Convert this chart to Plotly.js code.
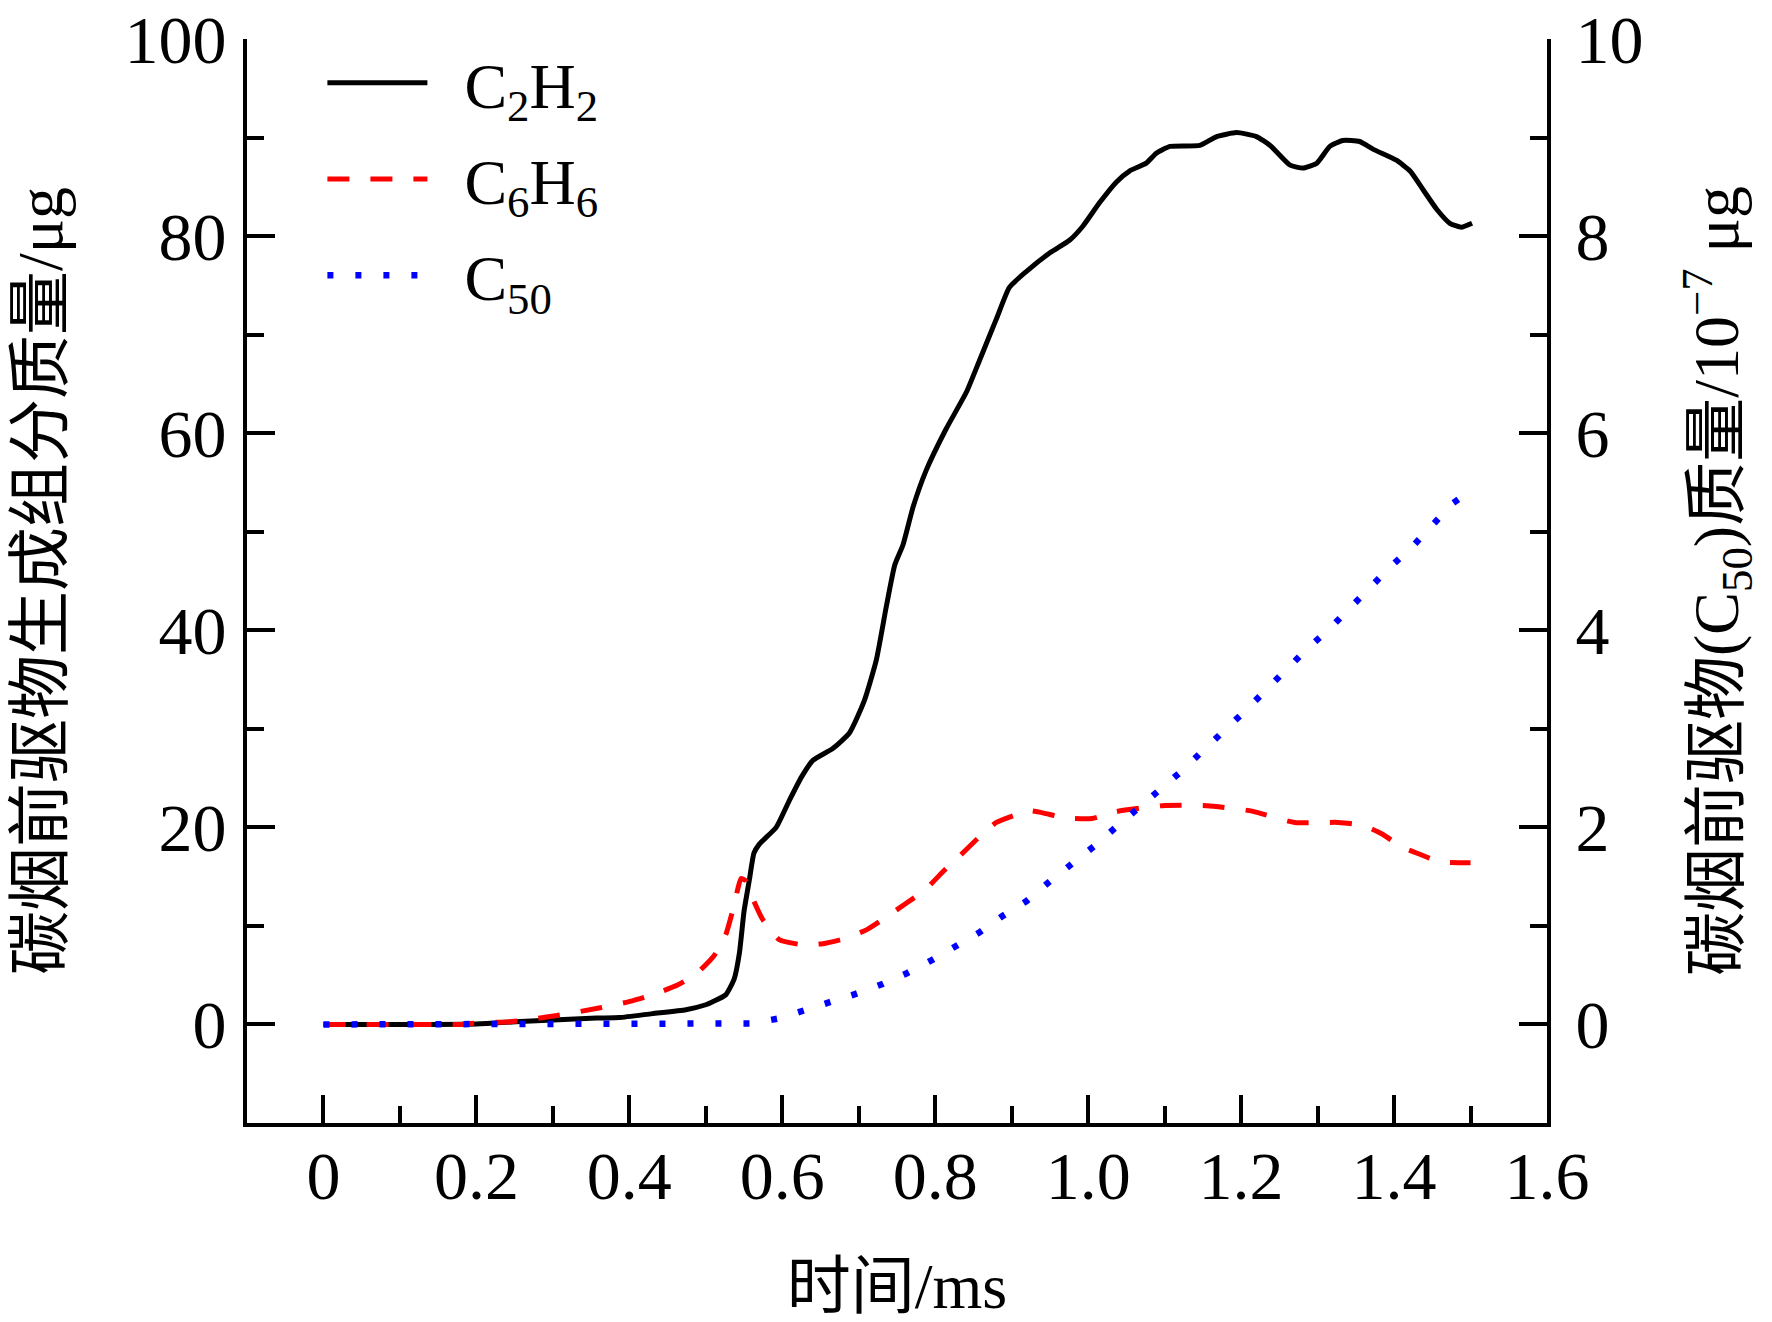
<!DOCTYPE html>
<html>
<head>
<meta charset="utf-8">
<script src="https://cdn.plot.ly/plotly-3.0.1.min.js"></script>
<style>
  html, body { margin: 0; padding: 0; background: #fff; }
  #chart { width: 1772px; height: 1322px; }
</style>
</head>
<body>
<div id="chart"></div>
<script>
'use strict';

// --- data (time in ms) ---
const C2H2_T = [0, 0.1, 0.2, 0.257, 0.3, 0.357, 0.387, 0.43, 0.474, 0.5, 0.509, 0.526, 0.537, 0.544,
    0.55, 0.557, 0.563, 0.57, 0.592, 0.609, 0.625, 0.64, 0.666, 0.688, 0.707, 0.723, 0.736, 0.747,
    0.758, 0.771, 0.788, 0.814, 0.841, 0.858, 0.88, 0.897, 0.919, 0.95, 0.976, 0.993, 1.015, 1.037,
    1.054, 1.076, 1.089, 1.107, 1.146, 1.168, 1.194, 1.22, 1.238, 1.264, 1.281, 1.299, 1.316, 1.333,
    1.355, 1.373, 1.403, 1.421, 1.438, 1.456, 1.473, 1.488, 1.502];
const C2H2_M = [0, 0, 0.05, 0.3, 0.45, 0.65, 0.7, 1.1, 1.5, 2.0, 2.3, 3.0, 4.6, 7.3,
    11.5, 14.7, 17.4, 18.3, 20.0, 22.7, 25.1, 26.8, 28.0, 29.6, 32.8, 37.0, 42.4, 46.6,
    48.7, 52.5, 56.2, 60.4, 64.2, 67.4, 71.6, 74.8, 76.4, 78.3, 79.6, 81.0, 83.4, 85.5,
    86.6, 87.4, 88.4, 89.1, 89.2, 90.1, 90.5, 90.1, 89.2, 87.2, 86.9, 87.4, 89.1, 89.7,
    89.6, 88.8, 87.7, 86.6, 84.7, 82.7, 81.3, 80.9, 81.3];

const C6H6_T = [0, 0.1, 0.18, 0.19, 0.247, 0.305, 0.362, 0.404, 0.43, 0.463, 0.487, 0.511, 0.526,
    0.537, 0.546, 0.552, 0.559, 0.574, 0.596, 0.625, 0.653, 0.681, 0.71, 0.736, 0.762, 0.786, 0.81,
    0.832, 0.856, 0.88, 0.91, 0.923, 0.939, 0.967, 0.98, 1.005, 1.037, 1.097, 1.155, 1.214, 1.27,
    1.327, 1.36, 1.385, 1.41, 1.436, 1.46, 1.5];
const C6H6_M = [0, 0, 0, 0.1, 0.3, 0.9, 1.7, 2.4, 3.0, 4.0, 5.1, 7.0, 9.1,
    12.1, 14.8, 14.6, 13.2, 10.7, 8.6, 8.1, 8.2, 8.7, 9.6, 10.9, 12.3, 13.6, 15.5,
    17.1, 18.9, 20.5, 21.4, 21.7, 21.5, 21.0, 20.9, 20.9, 21.6, 22.2, 22.2, 21.65, 20.5,
    20.5, 20.2, 19.3, 18.0, 17.2, 16.5, 16.4];

// C50 on the right axis, in 10^-7 ug
const C50_T = [0, 0.1, 0.2, 0.3, 0.4, 0.456, 0.525, 0.56, 0.595, 0.629, 0.663, 0.696, 0.731, 0.763,
    0.795, 0.826, 0.857, 0.888, 0.919, 0.948, 0.978, 1.008, 1.036, 1.064, 1.094, 1.122, 1.149,
    1.177, 1.205, 1.232, 1.259, 1.286, 1.315, 1.341, 1.368, 1.396, 1.424, 1.45, 1.477, 1.49];
const C50_M = [0, 0, 0, 0, 0, 0, 0, 0.01, 0.06, 0.14, 0.22, 0.31, 0.41, 0.52,
    0.65, 0.79, 0.93, 1.10, 1.25, 1.44, 1.62, 1.81, 2.00, 2.18, 2.37, 2.57, 2.77,
    2.97, 3.18, 3.39, 3.60, 3.81, 4.01, 4.22, 4.44, 4.65, 4.85, 5.07, 5.29, 5.36];

// --- ticks ---
const X_TICKS = [0, 0.2, 0.4, 0.6, 0.8, 1.0, 1.2, 1.4, 1.6];
const X_LABELS = ['0', '0.2', '0.4', '0.6', '0.8', '1.0', '1.2', '1.4', '1.6'];
const X_MINOR = [0.1, 0.3, 0.5, 0.7, 0.9, 1.1, 1.3, 1.5];
const Y_TICKS = [0, 20, 40, 60, 80, 100];
const Y_MINOR = [10, 30, 50, 70, 90];
const Y2_TICKS = [0, 2, 4, 6, 8, 10];
const Y2_MINOR = [1, 3, 5, 7, 9];

const FONT = '"Liberation Serif", "Times New Roman", "Noto Sans CJK SC", serif';
const INK = '#000';
const GAP = '\u2002';   // en space between legend line and label
const plotlyConfig = { displayModeBar: false, staticPlot: true };

function axisBase() {
    return {
        showline: true, linewidth: 4, linecolor: INK,
        showgrid: false, zeroline: false,
        ticks: 'inside', ticklen: 28, tickwidth: 4, tickcolor: INK,
        tickmode: 'array',
        tickfont: { family: FONT, size: 68, color: INK }
    };
}

function minorTicks(vals) {
    return { tickmode: 'array', tickvals: vals, ticks: 'inside', ticklen: 17, tickwidth: 4, tickcolor: INK, showgrid: false };
}

const traces = [
    {
        type: 'scatter', mode: 'lines', name: GAP + 'C<sub>2</sub>H<sub>2</sub>',
        x: C2H2_T, y: C2H2_M, legendgroup: 'a',
        line: { color: '#000000', width: 5, shape: 'spline', smoothing: 0.5 }
    },
    {
        type: 'scatter', mode: 'lines', name: GAP + 'C<sub>6</sub>H<sub>6</sub>',
        x: C6H6_T, y: C6H6_M, legendgroup: 'b',
        line: { color: '#ff0000', width: 5, dash: '22px,21px', shape: 'spline', smoothing: 0.5 }
    },
    {
        type: 'scatter', mode: 'lines', name: GAP + 'C<sub>50</sub>',
        x: C50_T, y: C50_M, yaxis: 'y2', legendgroup: 'c',
        line: { color: '#0000ff', width: 6.5, dash: '6px,22px' }
    }
];

const xaxis = Object.assign(axisBase(), {
    range: [-0.1, 1.6],
    tickvals: X_TICKS, ticktext: X_LABELS,
    minor: minorTicks(X_MINOR),
    ticklabelstandoff: -10,
    title: { text: '时间/ms', font: { family: FONT, size: 64, color: INK }, standoff: 57 }
});

const yaxis = Object.assign(axisBase(), {
    range: [-10, 100],
    tickvals: Y_TICKS,
    minor: minorTicks(Y_MINOR),
    ticklabelstandoff: 3,
    title: { text: '碳烟前驱物生成组分质量/μg', font: { family: FONT, size: 64, color: INK }, standoff: 42 }
});

const yaxis2 = Object.assign(axisBase(), {
    range: [-1, 10],
    overlaying: 'y', side: 'right',
    tickvals: Y2_TICKS,
    minor: minorTicks(Y2_MINOR),
    ticklabelstandoff: 11,
    title: { text: '碳烟前驱物(C<sub>50</sub>)质量/10<sup>−7</sup> μg', font: { family: FONT, size: 64, color: INK }, standoff: 52 }
});

const layout = {
    width: 1772, height: 1322,
    margin: { l: 247, r: 225, t: 39, b: 199 },
    paper_bgcolor: '#ffffff', plot_bgcolor: '#ffffff',
    font: { family: FONT, size: 64, color: INK },
    showlegend: true,
    legend: {
        x: 0.058, y: 1.004, xanchor: 'left', yanchor: 'top',
        bgcolor: 'rgba(0,0,0,0)', borderwidth: 0,
        itemwidth: 100, tracegroupgap: 10,
        font: { family: FONT, size: 64, color: INK }
    },
    xaxis: xaxis, yaxis: yaxis, yaxis2: yaxis2
};

Plotly.newPlot('chart', traces, layout, plotlyConfig);
</script>
</body>
</html>
